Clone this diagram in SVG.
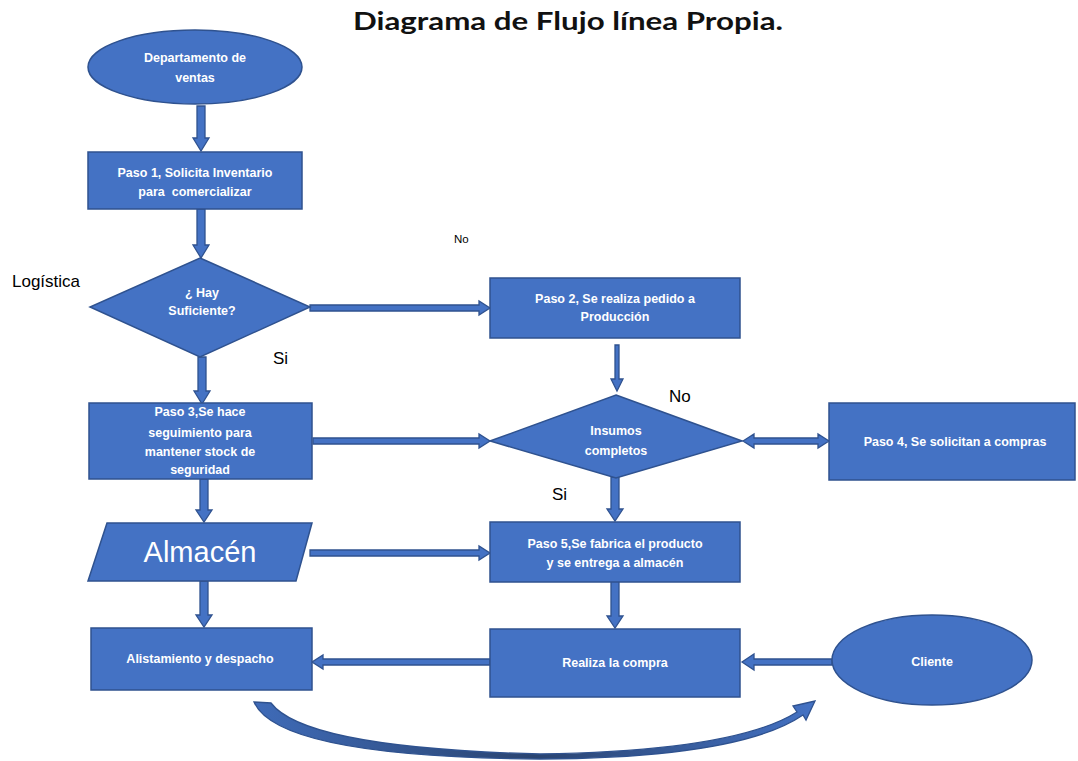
<svg xmlns="http://www.w3.org/2000/svg" width="1078" height="761" viewBox="0 0 1078 761">
  <style>
    .shape { fill: #4472C4; stroke: #2F528F; stroke-width: 1.5; }
    .arrow { fill: #4472C4; stroke: #2F528F; stroke-width: 1.3; stroke-linejoin: miter; }
    .lbl { font-family: "Liberation Sans", Arial, sans-serif; font-size: 12.5px; font-weight: bold; fill: #ffffff; text-anchor: middle; }
    .big { font-family: "Liberation Sans", Arial, sans-serif; font-size: 29px; fill: #ffffff; text-anchor: middle; }
    .note { font-family: "Liberation Sans", Arial, sans-serif; font-size: 17px; fill: #000000; }
    .title { font-family: Lato, "Liberation Sans", sans-serif; font-size: 25px; font-weight: bold; fill: #111111; }
  </style>
  <defs>
    <linearGradient id="curveShade" x1="0" y1="0" x2="1" y2="0">
      <stop offset="0" stop-color="#3F6BB8"/>
      <stop offset="0.5" stop-color="#2A4470"/>
      <stop offset="1" stop-color="#4472C4"/>
    </linearGradient>
  </defs>
  <rect width="1078" height="761" fill="#ffffff"/>

  <text class="title" x="353" y="30" textLength="430" lengthAdjust="spacingAndGlyphs">Diagrama de Flujo línea Propia.</text>

  <!-- side labels -->
  <text class="note" x="12" y="287">Logística</text>
  <text class="note" x="273" y="364">Si</text>
  <text class="note" x="454" y="243" style="font-size:11.5px">No</text>
  <text class="note" x="669" y="402">No</text>
  <text class="note" x="552" y="500">Si</text>

  <!-- connectors -->
  <g id="connectors">
    <!-- vertical block arrows (down) -->
    <polygon class="arrow" points="197,106 205,106 205,138 209,138 201,151 193,138 197,138"/>
    <polygon class="arrow" points="197,209 205,209 205,245 209,245 201,258 193,245 197,245"/>
    <polygon class="arrow" points="198,357 206,357 206,391 210,391 202,404 194,391 198,391"/>
    <polygon class="arrow" points="615,345 619,345 619,379 623,379 617,391 611,379 615,379"/>
    <polygon class="arrow" points="611,477 619,477 619,509 623,509 615,521 607,509 611,509"/>
    <polygon class="arrow" points="200,479 208,479 208,510 212,510 204,522 196,510 200,510"/>
    <polygon class="arrow" points="200,581 208,581 208,615 212,615 204,627 196,615 200,615"/>
    <polygon class="arrow" points="611,581 619,581 619,616 623,616 615,628 607,616 611,616"/>

    <!-- horizontal block arrows (right) -->
    <polygon class="arrow" points="310,305 479,305 479,301 490,308 479,315 479,311 310,311"/>
    <polygon class="arrow" points="313,438 479,438 479,434 490,441 479,448 479,444 313,444"/>
    <polygon class="arrow" points="310,550 479,550 479,546 490,553 479,560 479,556 310,556"/>

    <!-- left-pointing arrows -->
    <polygon class="arrow" points="490,659 323,659 323,655 312,662 323,669 323,665 490,665"/>
    <polygon class="arrow" points="832,659 754,659 754,654 742,662 754,670 754,665 832,665"/>

    <!-- double-headed arrow between decision and Paso 4 -->
    <polygon class="arrow" points="743,441 754,434 754,438 818,438 818,434 829,441 818,448 818,444 754,444 754,448"/>

    <!-- curved return arrow, tapering from the left end -->
    <path class="arrow" fill="url(#curveShade)" style="fill:url(#curveShade)" d="M 254,702 L 271,703 Q 305,748 540,754 Q 735,751 797,712 L 793,706 L 815,701 L 806,720 L 803,715 Q 740,758 540,759 Q 278,757 254,702 Z"/>
  </g>

  <g id="n-ventas">
    <ellipse class="shape" cx="195" cy="67" rx="107" ry="37"/>
    <text class="lbl" x="195" y="62">Departamento de</text>
    <text class="lbl" x="195" y="82">ventas</text>
  </g>

  <g id="n-paso1">
    <rect class="shape" x="88" y="152" width="214" height="57"/>
    <text class="lbl" x="195" y="177">Paso 1, Solicita Inventario</text>
    <text class="lbl" x="195" y="196" xml:space="preserve">para  comercializar</text>
  </g>

  <g id="n-hay">
    <polygon class="shape" points="200,258 310,307 200,357 90,307"/>
    <text class="lbl" x="202" y="297">¿ Hay</text>
    <text class="lbl" x="202" y="315">Suficiente?</text>
  </g>

  <g id="n-paso2">
    <rect class="shape" x="490" y="278" width="250" height="60"/>
    <text class="lbl" x="615" y="303">Paso 2, Se realiza pedido a</text>
    <text class="lbl" x="615" y="321">Producción</text>
  </g>

  <g id="n-paso3">
    <rect class="shape" x="89" y="403" width="223" height="76"/>
    <text class="lbl" x="200" y="416">Paso 3,Se hace</text>
    <text class="lbl" x="200" y="437">seguimiento para</text>
    <text class="lbl" x="200" y="456">mantener stock de</text>
    <text class="lbl" x="200" y="474">seguridad</text>
  </g>

  <g id="n-insumos">
    <polygon class="shape" points="616,395 742,441 616,478 490,441"/>
    <text class="lbl" x="616" y="435">Insumos</text>
    <text class="lbl" x="616" y="455">completos</text>
  </g>

  <g id="n-paso4">
    <rect class="shape" x="829" y="403" width="246" height="77"/>
    <text class="lbl" x="955" y="446">Paso 4, Se solicitan a compras</text>
  </g>

  <g id="n-almacen">
    <polygon class="shape" points="107,523 312,523 296,581 88,581"/>
    <text class="big" x="200" y="562">Almacén</text>
  </g>

  <g id="n-paso5">
    <rect class="shape" x="490" y="522" width="250" height="60"/>
    <text class="lbl" x="615" y="548">Paso 5,Se fabrica el producto</text>
    <text class="lbl" x="615" y="567">y se entrega a almacén</text>
  </g>

  <g id="n-alistamiento">
    <rect class="shape" x="91" y="628" width="221" height="62"/>
    <text class="lbl" x="200" y="663">Alistamiento y despacho</text>
  </g>

  <g id="n-realiza">
    <rect class="shape" x="490" y="629" width="250" height="68"/>
    <text class="lbl" x="615" y="667">Realiza la compra</text>
  </g>

  <g id="n-cliente">
    <ellipse class="shape" cx="932" cy="660" rx="100" ry="45"/>
    <text class="lbl" x="932" y="666">Cliente</text>
  </g>
</svg>
